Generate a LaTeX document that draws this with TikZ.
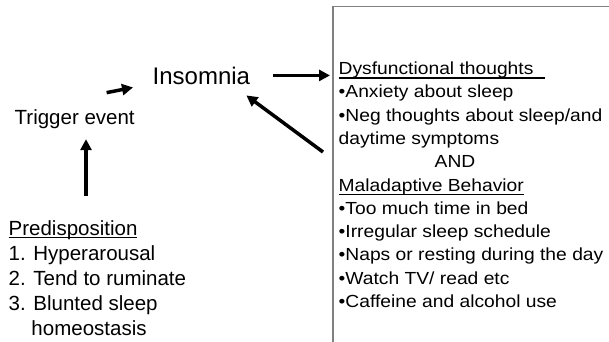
\documentclass[tikz,border=0pt]{standalone}
\usepackage{fontspec}
\setmainfont{Liberation Sans}
\newfontfamily\boxfont[FakeStretch=1.1]{Liberation Sans}
\usetikzlibrary{arrows.meta}
\newlength\ullen
\newcommand{\ulbar}[2]{\settowidth{\ullen}{#2}\rlap{\rule[-#1]{\ullen}{1.4pt}}#2}

\begin{document}
\begin{tikzpicture}[x=1pt,y=-1pt,
    txt/.style={anchor=base west,inner sep=0pt,font=\fontsize{20.5}{24}\selectfont},
    lst/.style={anchor=base west,inner sep=0pt,font=\boxfont\fontsize{17.5}{21}\selectfont},
    arr/.style={-{Triangle[length=11pt,width=11pt]},line width=3.5pt}]
  \useasboundingbox (0,0) rectangle (609,341);

  \node[draw=gray,line width=1.2pt,outer sep=0pt,inner sep=0pt,anchor=north west,
    minimum width=300pt,minimum height=360pt] (box) at (333,6.5) {};

  \node[txt,font=\fontsize{24}{28}\selectfont] (ins) at (152.5,84) {Insomnia};
  \node[txt] (trig) at (14.5,124.5) {Trigger event};

  \foreach \t [count=\i] in {{\ulbar{3pt}{Predisposition}},1. Hyperarousal,
      2. Tend to ruminate,3. Blunted sleep,{\phantom{3.\ }homeostasis}}
    \node[txt] (p\i) at (8.5,{235+25*(\i-1)}) {\t};

  \foreach \t [count=\i] in {{\ulbar{4.3pt}{Dysfunctional thoughts\hspace{12pt}}},
      •Anxiety about sleep,•Neg thoughts about sleep/and,daytime symptoms,
      {\hspace*{96pt}AND},{\ulbar{4.3pt}{Maladaptive Behavior}},
      •Too much time in bed,•Irregular sleep schedule,
      •Naps or resting during the day,•Watch TV/ read etc,
      •Caffeine and alcohol use}
    \node[lst] (b\i) at (338.5,{74.5+23.3*(\i-1)}) {\t};

  \draw[arr] ([shift={(77.5,-24.3)}]p1.north west) to
    ([shift={(71.5,10.2)}]trig.south west);
  \draw[arr] ([shift={(-28.3,-16.8)}]trig.north east) to
    ([shift={(-19.5,3)}]ins.south west);
  \draw[arr,shorten <=23pt,shorten >=3pt] (ins.east) to (ins.east -| box.west);
  \draw[arr] ([shift={(-10,145.5)}]box.north west) to
    ([shift={(-3.9,11)}]ins.south east);
\end{tikzpicture}
\end{document}
